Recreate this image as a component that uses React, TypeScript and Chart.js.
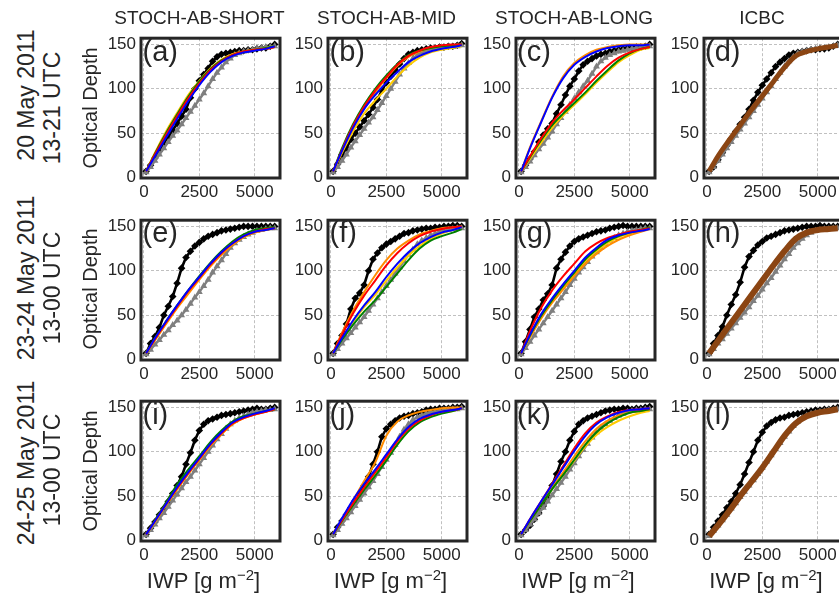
import React, { useEffect, useRef } from 'react';
import { Chart, registerables } from 'chart.js';

Chart.register(...registerables);

// ---------------- data ----------------
const xFine = [100, 300, 500, 700, 900, 1100, 1300, 1500, 1700, 1900, 2100, 2300, 2500, 2700, 2900, 3100, 3300, 3500, 3700, 3900, 4100, 4300, 4500, 4700, 4900, 5100, 5300, 5500, 5700, 5900];
const xCoarse = [100, 500, 1000, 1500, 2000, 2500, 3000, 3500, 4000, 4500, 5000, 5500, 5900];
const xTicks = [0, 2500, 5000];
const yTicks = [0, 50, 100, 150];

const colTitles = ['STOCH-AB-SHORT', 'STOCH-AB-MID', 'STOCH-AB-LONG', 'ICBC'];
const rowLine1 = ['20 May 2011', '23-24 May 2011', '24-25 May 2011'];
const rowLine2 = ['13-21 UTC', '13-00 UTC', '13-00 UTC'];
const panelLabels = ['(a)', '(b)', '(c)', '(d)', '(e)', '(f)', '(g)', '(h)', '(i)', '(j)', '(k)', '(l)'];

// (a)
const aBlack = [7, 14, 22, 30, 39, 46, 53, 61, 69, 77, 90, 100, 109, 116, 123, 131, 136, 139, 140, 141, 142, 143, 143, 144, 144, 145, 146, 146, 148, 150];
const aGray = [6, 12, 19, 26, 33, 40, 47, 53, 60, 67, 74, 81, 88, 95, 103, 111, 118, 124, 130, 134, 138, 140, 142, 143, 144, 145, 146, 147, 147, 148];
const aYellow = [7, 28, 52, 73, 93, 109, 123, 133, 139, 142, 144, 146, 148];
const aOrange = [7, 27, 50, 71, 91, 108, 122, 132, 139, 142, 144, 145, 147];
const aGreen = [7, 27, 50, 71, 91, 108, 122, 132, 138, 142, 144, 146, 148];
const aRed = [7, 26, 48, 69, 89, 106, 121, 131, 138, 142, 144, 145, 147];
const aBlue = [7, 24, 45, 66, 86, 104, 119, 130, 137, 141, 143, 145, 148];
// (b)
const bBlack = [7, 15, 26, 33, 43, 50, 57, 64, 71, 79, 88, 98, 107, 114, 121, 128, 134, 139, 141, 143, 144, 145, 146, 146, 147, 147, 148, 148, 149, 151];
const bGray = [6, 12, 19, 26, 34, 41, 48, 55, 62, 68, 76, 84, 92, 100, 108, 116, 123, 129, 134, 138, 141, 143, 144, 145, 146, 146, 147, 147, 148, 149];
const bYellow = [7, 28, 52, 72, 87, 100, 114, 126, 135, 141, 144, 146, 148];
const bOrange = [7, 30, 56, 78, 96, 112, 126, 136, 142, 146, 148, 149, 150];
const bGreen = [7, 33, 60, 82, 100, 115, 128, 138, 143, 146, 148, 149, 150];
const bRed = [7, 31, 58, 80, 98, 113, 127, 137, 143, 147, 149, 150, 150];
const bBlue = [7, 30, 56, 77, 93, 107, 119, 130, 137, 142, 145, 147, 149];
// (c)
const cBlack = [7, 14, 21, 29, 40, 48, 55, 61, 72, 82, 93, 103, 111, 120, 127, 131, 134, 137, 139, 140, 142, 143, 144, 145, 146, 146, 147, 147, 148, 150];
const cGray = [6, 12, 18, 25, 32, 38, 45, 52, 60, 67, 74, 82, 89, 96, 103, 109, 117, 125, 131, 135, 138, 140, 142, 143, 144, 145, 146, 147, 147, 148];
const cYellow = [7, 21, 39, 56, 70, 82, 94, 107, 119, 130, 138, 144, 146];
const cOrange = [7, 34, 63, 91, 114, 129, 138, 144, 147, 149, 150, 150, 150];
const cGreen = [7, 23, 42, 59, 72, 84, 96, 109, 121, 132, 140, 145, 147];
const cRed = [7, 24, 44, 62, 76, 88, 101, 114, 126, 135, 141, 145, 147];
const cBlue = [7, 33, 62, 90, 112, 127, 136, 142, 146, 148, 149, 149, 150];
// (d)
const dBlack = [7, 12, 20, 28, 36, 44, 52, 60, 68, 77, 87, 96, 104, 111, 118, 125, 130, 134, 138, 140, 141, 142, 143, 144, 144, 145, 145, 146, 148, 150];
const dGray = [6, 12, 19, 26, 33, 40, 47, 54, 61, 68, 75, 82, 89, 96, 103, 111, 118, 125, 131, 136, 140, 142, 143, 144, 145, 146, 146, 147, 148, 149];
const dBrown = [7, 24, 42, 59, 76, 92, 108, 124, 137, 142, 145, 147, 149];
// (e)
const eBlack = [7, 18, 26, 36, 50, 60, 71, 86, 103, 115, 122, 128, 132, 136, 139, 141, 143, 145, 146, 147, 148, 149, 150, 150, 150, 150, 150, 150, 150, 150];
const eGray = [6, 11, 17, 22, 28, 33, 39, 44, 50, 56, 63, 70, 76, 83, 90, 98, 105, 112, 119, 126, 131, 135, 138, 141, 143, 145, 146, 147, 148, 148];
const eYellow = [7, 22, 41, 59, 76, 91, 106, 119, 130, 138, 144, 146, 148];
const eOrange = [7, 22, 40, 58, 74, 90, 105, 118, 129, 138, 143, 146, 148];
const eGreen = [7, 24, 43, 61, 78, 94, 109, 122, 133, 141, 146, 148, 149];
const eRed = [7, 23, 42, 60, 77, 92, 107, 120, 131, 139, 144, 147, 148];
const eBlue = [7, 24, 43, 61, 78, 93, 108, 121, 131, 139, 144, 146, 148];
// (f)
const fBlack = [7, 18, 27, 40, 57, 69, 75, 84, 100, 113, 120, 126, 130, 133, 136, 139, 142, 143, 145, 146, 147, 148, 148, 149, 149, 150, 150, 151, 151, 150];
const fGray = [6, 12, 18, 24, 30, 36, 42, 48, 55, 62, 69, 76, 83, 90, 97, 104, 111, 118, 124, 130, 134, 137, 140, 142, 144, 145, 146, 147, 148, 148];
const fYellow = [7, 23, 42, 59, 73, 89, 104, 117, 128, 136, 142, 146, 148];
const fOrange = [7, 30, 55, 76, 95, 112, 125, 134, 141, 145, 148, 149, 150];
const fGreen = [7, 22, 39, 54, 67, 82, 97, 112, 125, 134, 139, 143, 147];
const fRed = [7, 28, 52, 72, 89, 106, 120, 131, 139, 144, 147, 149, 150];
const fBlue = [7, 24, 44, 61, 76, 93, 108, 121, 131, 138, 143, 146, 149];
// (g)
const gBlack = [7, 20, 34, 48, 57, 67, 74, 84, 103, 113, 121, 128, 133, 136, 138, 140, 142, 144, 145, 146, 148, 149, 150, 151, 150, 150, 150, 150, 150, 150];
const gGray = [6, 13, 20, 27, 34, 41, 48, 55, 62, 69, 76, 84, 91, 98, 104, 110, 116, 121, 126, 130, 134, 137, 140, 142, 144, 145, 146, 147, 148, 148];
const gYellow = [7, 26, 48, 66, 81, 96, 111, 122, 131, 138, 142, 145, 148];
const gOrange = [7, 25, 46, 64, 79, 94, 108, 119, 128, 135, 140, 144, 147];
const gGreen = [7, 27, 49, 67, 83, 98, 113, 124, 133, 139, 143, 146, 149];
const gRed = [7, 32, 58, 78, 94, 108, 122, 131, 137, 141, 144, 146, 148];
const gBlue = [7, 28, 51, 69, 85, 100, 115, 126, 135, 140, 143, 145, 147];
// (h)
const hBlack = [7, 18, 27, 37, 50, 62, 73, 87, 104, 116, 123, 129, 133, 137, 139, 141, 143, 145, 146, 147, 148, 149, 150, 150, 150, 151, 150, 150, 150, 150];
const hGray = [6, 12, 18, 23, 29, 35, 41, 47, 53, 59, 66, 72, 79, 86, 92, 99, 106, 113, 119, 126, 131, 136, 140, 143, 145, 146, 147, 147, 148, 148];
const hBrown = [7, 21, 38, 55, 72, 89, 106, 122, 136, 143, 146, 147, 148];
// (i)
const iBlack = [7, 14, 21, 29, 36, 44, 53, 62, 72, 86, 99, 113, 124, 131, 135, 137, 139, 141, 142, 143, 144, 145, 146, 147, 148, 149, 148, 148, 149, 150];
const iGray = [6, 12, 18, 25, 31, 38, 45, 52, 59, 66, 72, 79, 86, 93, 100, 107, 114, 120, 126, 131, 135, 138, 140, 142, 144, 145, 146, 147, 147, 148];
const iYellow = [7, 21, 40, 58, 75, 91, 107, 120, 131, 138, 142, 145, 148];
const iOrange = [7, 21, 40, 58, 75, 91, 107, 120, 131, 138, 142, 145, 148];
const iGreen = [7, 23, 43, 63, 80, 95, 111, 124, 134, 140, 143, 146, 148];
const iRed = [7, 22, 41, 59, 76, 92, 108, 121, 132, 138, 142, 145, 148];
const iBlue = [7, 22, 41, 60, 77, 93, 109, 122, 133, 139, 143, 146, 149];
// (j)
const jBlack = [7, 15, 22, 29, 37, 45, 52, 62, 72, 86, 100, 117, 126, 131, 135, 138, 140, 141, 143, 144, 145, 147, 148, 148, 149, 149, 149, 150, 150, 151];
const jGray = [6, 12, 19, 25, 32, 39, 46, 53, 60, 67, 75, 83, 91, 99, 108, 117, 125, 131, 136, 139, 141, 143, 144, 145, 146, 147, 147, 148, 148, 149];
const jYellow = [7, 22, 40, 58, 74, 91, 109, 124, 134, 140, 144, 146, 149];
const jOrange = [7, 24, 45, 67, 88, 118, 134, 141, 145, 147, 149, 150, 150];
const jGreen = [7, 22, 40, 57, 73, 90, 108, 123, 133, 139, 143, 146, 149];
const jRed = [7, 23, 42, 60, 77, 94, 112, 126, 135, 141, 145, 147, 149];
const jBlue = [7, 25, 46, 64, 80, 97, 114, 128, 137, 142, 145, 147, 149];
// (k)
const kBlack = [7, 12, 17, 24, 31, 39, 49, 62, 75, 89, 100, 113, 123, 131, 135, 138, 140, 142, 144, 146, 147, 148, 148, 149, 149, 148, 149, 149, 150, 151];
const kGray = [6, 12, 18, 24, 31, 37, 44, 51, 58, 65, 72, 80, 87, 95, 102, 109, 116, 122, 127, 131, 135, 138, 141, 143, 145, 146, 147, 147, 148, 148];
const kYellow = [7, 22, 40, 58, 74, 90, 106, 119, 128, 135, 140, 144, 146];
const kOrange = [7, 23, 42, 60, 77, 95, 112, 126, 135, 141, 144, 146, 148];
const kGreen = [7, 22, 40, 58, 74, 91, 108, 122, 132, 139, 144, 146, 148];
const kRed = [7, 24, 44, 64, 84, 104, 121, 133, 140, 145, 147, 148, 149];
const kBlue = [7, 24, 44, 63, 82, 101, 118, 131, 139, 144, 147, 148, 149];
// (l)
const lBlack = [7, 15, 22, 29, 37, 44, 53, 63, 75, 88, 100, 113, 122, 129, 133, 136, 138, 139, 141, 142, 143, 144, 145, 146, 147, 147, 148, 148, 149, 150];
const lGray = [5, 11, 17, 23, 29, 36, 42, 49, 55, 62, 68, 75, 82, 89, 96, 103, 110, 117, 123, 129, 134, 138, 141, 143, 144, 145, 146, 147, 147, 148];
const lBrown = [5, 17, 33, 50, 66, 82, 100, 118, 132, 140, 144, 146, 148];

// ---------------- styling ----------------
const FONT = '"Liberation Sans", Arial, Helvetica, sans-serif';
const INK = '#262626';
const RED = '#ff0000';
const BLUE = '#0000ff';
const GREEN = '#008000';
const YELLOW = '#ffcc00';
const ORANGE = '#ff8c00';
const BROWN = '#8b4513';

type Member = { color: string; data: number[]; width: number; order: number };
type Panel = { black: number[]; gray: number[]; members: Member[] };

const stoch = (y: number[], o: number[], g: number[], r: number[], b: number[]): Member[] => [
  { color: YELLOW, data: y, width: 2, order: 4 },
  { color: ORANGE, data: o, width: 2, order: 3 },
  { color: GREEN, data: g, width: 2, order: 2 },
  { color: RED, data: r, width: 2, order: 1 },
  { color: BLUE, data: b, width: 2, order: 0 },
];

const panels: Panel[] = [
  { black: aBlack, gray: aGray, members: stoch(aYellow, aOrange, aGreen, aRed, aBlue) },
  { black: bBlack, gray: bGray, members: stoch(bYellow, bOrange, bGreen, bRed, bBlue) },
  { black: cBlack, gray: cGray, members: stoch(cYellow, cOrange, cGreen, cRed, cBlue) },
  { black: dBlack, gray: dGray, members: [{ color: BROWN, data: dBrown, width: 5, order: 0 }] },
  { black: eBlack, gray: eGray, members: stoch(eYellow, eOrange, eGreen, eRed, eBlue) },
  { black: fBlack, gray: fGray, members: stoch(fYellow, fOrange, fGreen, fRed, fBlue) },
  { black: gBlack, gray: gGray, members: stoch(gYellow, gOrange, gGreen, gRed, gBlue) },
  { black: hBlack, gray: hGray, members: [{ color: BROWN, data: hBrown, width: 6, order: 0 }] },
  { black: iBlack, gray: iGray, members: stoch(iYellow, iOrange, iGreen, iRed, iBlue) },
  { black: jBlack, gray: jGray, members: stoch(jYellow, jOrange, jGreen, jRed, jBlue) },
  { black: kBlack, gray: kGray, members: stoch(kYellow, kOrange, kGreen, kRed, kBlue) },
  { black: lBlack, gray: lGray, members: [{ color: BROWN, data: lBrown, width: 6, order: 0 }] },
];

// layout of plot areas
const colLeft = [141, 328, 515.5, 703.5];
const rowTop = [37, 218.5, 400];
const AREA_W = 139;
const AREA_H = 141;
const LY = 50;
const PT = 14;
const PR = 14;
const BX = 30;

const framePlugin = {
  id: 'frameBox',
  afterDatasetsDraw(chart: any) {
    const { ctx, chartArea: a } = chart;
    ctx.save();
    ctx.strokeStyle = INK;
    ctx.lineWidth = 3;
    ctx.strokeRect(a.left, a.top, a.right - a.left, a.bottom - a.top);
    ctx.restore();
  },
};

function PanelChart({ p, left, top }: { p: Panel; left: number; top: number }) {
  const ref = useRef<HTMLCanvasElement>(null);
  const cw = LY + AREA_W + PR;
  const ch = PT + AREA_H + BX;
  useEffect(() => {
    const datasets: any[] = [];
    p.members.forEach((m) => {
      datasets.push({
        data: xCoarse.map((x, i) => ({ x, y: m.data[i] })),
        borderColor: m.color,
        backgroundColor: m.color,
        borderWidth: m.width,
        pointRadius: 0,
        cubicInterpolationMode: 'monotone',
        order: m.order,
      });
    });
    datasets.push({
      data: xFine.map((x, i) => ({ x, y: p.gray[i] })),
      borderColor: '#7f7f7f',
      backgroundColor: '#7f7f7f',
      borderWidth: 2.4,
      pointStyle: 'triangle',
      pointRadius: 4,
      pointBorderWidth: 0,
      order: 8,
    });
    datasets.push({
      data: xFine.map((x, i) => ({ x, y: p.black[i] })),
      borderColor: '#000000',
      backgroundColor: '#000000',
      borderWidth: 2.6,
      pointStyle: 'rectRot',
      pointRadius: 3.8,
      pointBorderWidth: 0,
      order: 9,
    });
    const tickFont = { family: FONT, size: 17 };
    const chart = new Chart(ref.current as HTMLCanvasElement, {
      type: 'line',
      data: { datasets },
      options: {
        animation: false,
        responsive: false,
        maintainAspectRatio: false,
        events: [],
        layout: { padding: { left: 0, top: PT, right: PR, bottom: 0 } },
        plugins: { legend: { display: false }, tooltip: { enabled: false }, title: { display: false } },
        scales: {
          x: {
            type: 'linear',
            min: -130,
            max: 6140,
            afterBuildTicks: (s: any) => {
              s.ticks = xTicks.map((v) => ({ value: v }));
            },
            afterFit: (s: any) => {
              s.height = BX;
            },
            ticks: { font: tickFont, color: INK, padding: 4, maxRotation: 0, autoSkip: false, callback: (v: any) => String(v) },
            grid: { color: '#b0b0b0', lineWidth: 0.8, drawTicks: false },
            border: { display: false, dash: [3, 2] },
          },
          y: {
            type: 'linear',
            min: -0.5,
            max: 157,
            afterBuildTicks: (s: any) => {
              s.ticks = yTicks.map((v) => ({ value: v }));
            },
            afterFit: (s: any) => {
              s.width = LY;
            },
            ticks: { font: tickFont, color: INK, padding: 5, autoSkip: false, callback: (v: any) => String(v) },
            grid: { color: '#b0b0b0', lineWidth: 0.8, drawTicks: false },
            border: { display: false, dash: [3, 2] },
          },
        },
      } as any,
      plugins: [framePlugin],
    });
    return () => chart.destroy();
  }, [p]);
  return (
    <canvas
      ref={ref}
      width={cw}
      height={ch}
      style={{ position: 'absolute', left: left - LY, top: top - PT, width: cw, height: ch }}
    />
  );
}

const txt: React.CSSProperties = { position: 'absolute', fontFamily: FONT, color: INK, whiteSpace: 'pre' };
const rowLine1Center = [95, 277.5, 463];
const rowLine2Center = [107.5, 287.5, 470];

export default function App() {
  const items: React.ReactNode[] = [];
  panels.forEach((p, idx) => {
    const r = Math.floor(idx / 4);
    const c = idx % 4;
    items.push(<PanelChart key={'c' + idx} p={p} left={colLeft[c]} top={rowTop[r]} />);
    items.push(
      <div key={'l' + idx} style={{ ...txt, left: colLeft[c] + 1.5, top: rowTop[r] - 0.5, fontSize: 29, lineHeight: '29px' }}>
        {panelLabels[idx]}
      </div>
    );
  });
  colTitles.forEach((t, c) => {
    items.push(
      <div key={'t' + c} style={{ ...txt, left: colLeft[c] + AREA_W / 2 - 11, top: 7, fontSize: 19, lineHeight: '22px', transform: 'translateX(-50%)' }}>
        {t}
      </div>
    );
    items.push(
      <div key={'x' + c} style={{ ...txt, left: colLeft[c] + AREA_W / 2 - 7, top: 568, fontSize: 22, lineHeight: '26px', transform: 'translateX(-50%)' }}>
        IWP [g m<sup style={{ fontSize: 15, lineHeight: 0 }}>−2</sup>]
      </div>
    );
  });
  rowLine1.forEach((t, r) => {
    const cy = rowTop[r] + AREA_H / 2;
    items.push(
      <div key={'ra' + r} style={{ ...txt, left: 26, top: rowLine1Center[r], fontSize: 23, lineHeight: '26px', transform: 'translate(-50%, -50%) rotate(-90deg)' }}>
        {t}
      </div>
    );
    items.push(
      <div key={'rb' + r} style={{ ...txt, left: 52, top: rowLine2Center[r], fontSize: 23, lineHeight: '26px', transform: 'translate(-50%, -50%) rotate(-90deg)' }}>
        {rowLine2[r]}
      </div>
    );
    items.push(
      <div key={'o' + r} style={{ ...txt, left: 90, top: cy, fontSize: 20, lineHeight: '22px', transform: 'translate(-50%, -50%) rotate(-90deg)' }}>
        Optical Depth
      </div>
    );
  });
  return (
    <div style={{ position: 'absolute', left: 0, top: 0, width: 839, height: 598, overflow: 'hidden', background: '#ffffff' }}>
      {items}
    </div>
  );
}
